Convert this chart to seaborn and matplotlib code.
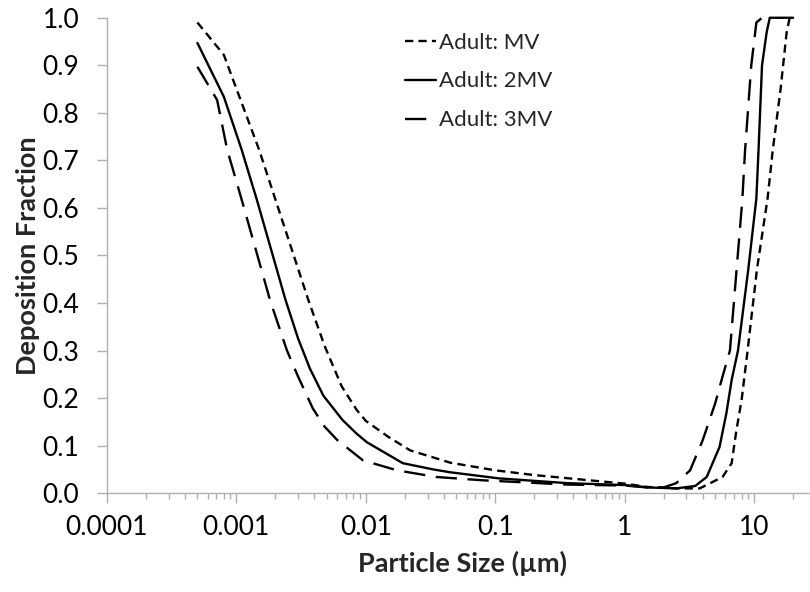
import numpy as np
import pandas as pd
import matplotlib
matplotlib.use('Agg')
import matplotlib.pyplot as plt
import matplotlib.ticker as mticker
import seaborn as sns

# values
mv_size = [0.0005, 0.0008, 0.0015, 0.0036, 0.0048, 0.0065, 0.0085, 0.01, 0.015, 0.022, 0.045,
           0.1, 0.2, 0.64, 1.0, 1.5, 2.5, 3.8, 5.7, 6.7, 7.3, 8.0, 8.9, 10.5, 12.7,
           13.9, 16.0, 17.8, 18.8, 20.0]
mv_dep = [0.99, 0.922, 0.722, 0.406, 0.31, 0.225, 0.175, 0.152, 0.118, 0.09, 0.064,
          0.048, 0.038, 0.025, 0.02, 0.013, 0.01, 0.01, 0.034, 0.063, 0.133, 0.196, 0.30, 0.47, 0.62,
          0.72, 0.85, 0.968, 1.0, 1.0]

mv2_size = [0.0005, 0.0008, 0.0011, 0.00144, 0.0024, 0.003, 0.0037, 0.0047, 0.0066, 0.0085,
            0.0102, 0.0193, 0.033, 0.0445, 0.107, 0.36, 1.0, 1.5, 2.5, 3.5, 4.3, 5.4, 6.1,
            6.7, 7.5, 9.0, 10.4, 10.8, 11.5, 12.5, 13.2, 20.0]
mv2_dep = [0.947, 0.834, 0.722, 0.617, 0.406, 0.325, 0.262, 0.205, 0.154, 0.125,
           0.107, 0.063, 0.05, 0.044, 0.031, 0.021, 0.017, 0.012, 0.01, 0.015, 0.034, 0.097, 0.168,
           0.238, 0.30, 0.47, 0.62, 0.72, 0.9, 0.97, 1.0, 1.0]

mv3_size = [0.0005, 0.00071, 0.00085, 0.0011, 0.00182, 0.00246, 0.003, 0.0039, 0.0048, 0.006,
            0.0095, 0.0174, 0.035, 0.08, 0.36, 1.0, 1.5, 2.0, 2.5, 3.2, 4.0, 5.0, 5.6, 6.5,
            8.1, 8.5, 9.5, 10.4, 11.5]
mv3_dep = [0.897, 0.827, 0.722, 0.617, 0.406, 0.30, 0.245, 0.178, 0.14, 0.112,
           0.069, 0.048, 0.034, 0.027, 0.018, 0.016, 0.012, 0.012, 0.021, 0.048, 0.111, 0.189, 0.238, 0.30,
           0.617, 0.72, 0.9, 0.99, 1.0]

labels = ['Adult: MV', 'Adult: 2MV', 'Adult: 3MV']
tick_vals = [0.0001, 0.001, 0.01, 0.1, 1, 10]
tick_text = ['0.0001', '0.001', '0.01', '0.1', '1', '10']

sns.set_style('white')
plt.rcParams['font.family'] = ['Lato', 'DejaVu Sans']

fig = plt.figure(figsize=(8.1, 5.92), dpi=100)
ax = fig.add_axes([0.132, 0.167, 0.868, 0.803])

lw = 1.7
styles = [(3.5, 2.2), '', (9, 4.5)]
series = [(mv_size, mv_dep), (mv2_size, mv2_dep), (mv3_size, mv3_dep)]
for (xs, ys), lab, ds in zip(series, labels, styles):
    sns.lineplot(x=xs, y=ys, ax=ax, color='black', linewidth=lw, label=lab,
                 sort=False, estimator=None)
    line = ax.lines[-1]
    line.set_clip_on(False)
    if ds:
        line.set_dashes(ds)

ax.set_xscale('log')
ax.set_xlim(1e-4, 27)
ax.set_ylim(0, 1.0)

ax.xaxis.set_major_locator(mticker.FixedLocator(tick_vals))
ax.xaxis.set_major_formatter(mticker.FixedFormatter(tick_text))
ax.xaxis.set_minor_locator(mticker.LogLocator(base=10, subs=np.arange(2, 10), numticks=20))
ax.xaxis.set_minor_formatter(mticker.NullFormatter())
ax.yaxis.set_major_locator(mticker.MultipleLocator(0.1))
ax.yaxis.set_major_formatter(mticker.FormatStrFormatter('%.1f'))

grey = '#b0b0b0'
for s in ['top', 'right']:
    ax.spines[s].set_visible(False)
for s in ['left', 'bottom']:
    ax.spines[s].set_color(grey)
    ax.spines[s].set_linewidth(1.0)

ax.tick_params(axis='both', which='major', direction='out', length=7, width=1,
               color=grey, labelsize=19, labelcolor='black')
ax.tick_params(axis='x', which='minor', direction='out', length=4, width=1, color=grey)
ax.tick_params(axis='x', which='both', bottom=True)
ax.tick_params(axis='y', which='both', left=True)
ax.tick_params(axis='x', pad=9)
ax.tick_params(axis='y', pad=13)

ax.set_xlabel('Particle Size (µm)', fontsize=19.5, fontweight='bold')
ax.set_ylabel('Deposition Fraction', fontsize=19.5, fontweight='bold')
ax.xaxis.set_label_coords(0.506, -0.122)
ax.yaxis.set_label_coords(-0.095, 0.5)

leg = ax.legend(loc='upper left', bbox_to_anchor=(0.489, 0.96), bbox_transform=fig.transFigure,
                frameon=False, fontsize=16, handlelength=1.4, handletextpad=0.15,
                labelspacing=0.85, borderaxespad=0)

fig.savefig('out.png', dpi=100)
